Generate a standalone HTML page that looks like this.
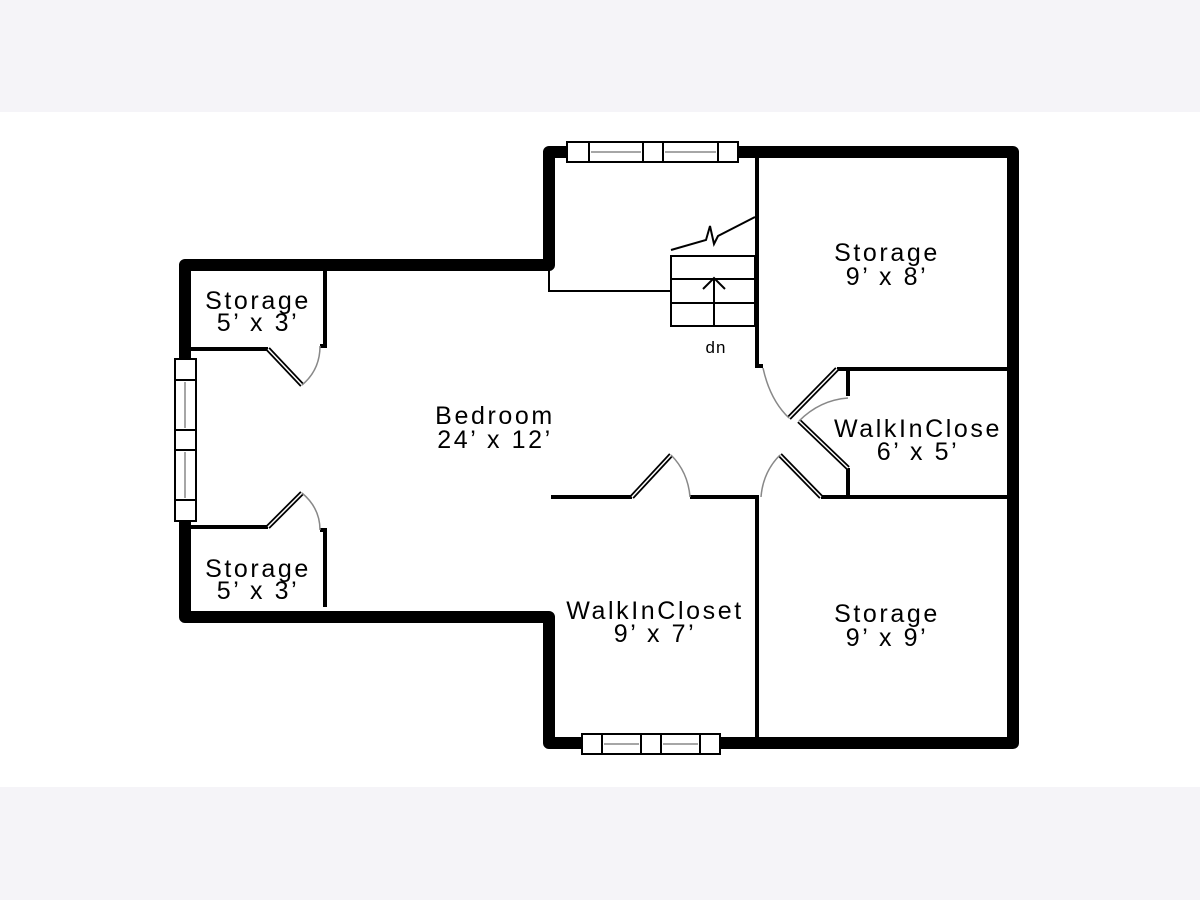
<!DOCTYPE html>
<html><head><meta charset="utf-8"><style>
html,body{margin:0;padding:0;background:#f5f4f8;}
svg{display:block;}
text{font-family:"Liberation Sans","DejaVu Sans",sans-serif;font-size:25px;fill:#000;text-anchor:middle;letter-spacing:2.6px;}
</style></head><body>
<svg width="1200" height="900" viewBox="0 0 1200 900" xmlns="http://www.w3.org/2000/svg">
<rect x="0" y="0" width="1200" height="900" fill="#f5f4f8"/>
<rect x="0" y="112" width="1200" height="675" fill="#fff"/>
<path d="M549,265 L185,265 L185,617 L549,617 L549,743 L1013,743 L1013,152 L549,152 Z" fill="none" stroke="#000" stroke-width="12" stroke-linejoin="round"/>
<g stroke="#000" stroke-width="2" fill="#fff">
<rect x="567" y="142" width="171" height="20"/>
<line x1="589" y1="142" x2="589" y2="162"/><line x1="643" y1="142" x2="643" y2="162"/><line x1="663" y1="142" x2="663" y2="162"/><line x1="718" y1="142" x2="718" y2="162"/>
<rect x="582" y="734" width="138" height="20"/>
<line x1="602" y1="734" x2="602" y2="754"/><line x1="641" y1="734" x2="641" y2="754"/><line x1="661" y1="734" x2="661" y2="754"/><line x1="700" y1="734" x2="700" y2="754"/>
<rect x="175" y="359" width="21" height="162"/>
<line x1="175" y1="380" x2="196" y2="380"/><line x1="175" y1="430" x2="196" y2="430"/><line x1="175" y1="450" x2="196" y2="450"/><line x1="175" y1="500" x2="196" y2="500"/>
</g>
<g stroke="#888" stroke-width="1.5">
<line x1="591" y1="152" x2="641" y2="152"/><line x1="665" y1="152" x2="716" y2="152"/>
<line x1="604" y1="744" x2="639" y2="744"/><line x1="663" y1="744" x2="698" y2="744"/>
<line x1="185" y1="382" x2="185" y2="428"/><line x1="185" y1="452" x2="185" y2="498"/>
</g>
<g stroke="#000" stroke-width="4" fill="none">
<polyline points="757,156 757,366 763,366"/>
<polyline points="837,369 1007,369"/>
<polyline points="848,369 848,396"/>
<polyline points="848,468 848,497"/>
<polyline points="821,497 1007,497"/>
<polyline points="690,497 759,497"/>
<polyline points="551,497 632,497"/>
<polyline points="757,497 757,739"/>
<polyline points="191,349 268,349"/>
<polyline points="325,271 325,346 320,346"/>
<polyline points="191,527 268,527"/>
<polyline points="325,607 325,530 320,530"/>
</g>
<g stroke="#000" stroke-width="2" fill="none">
<polyline points="549,268 549,291 671,291"/>
<rect x="671" y="256" width="84" height="70"/>
<line x1="671" y1="279" x2="755" y2="279"/><line x1="671" y1="303" x2="755" y2="303"/>
<line x1="714" y1="326" x2="714" y2="278"/>
<polyline points="703,289 714,278 725,289"/>
<polyline points="671,250 706,240 710,226 714,244 718,236 755,217"/>
</g>
<text x="716" y="353" style="font-size:17px;letter-spacing:1px">dn</text>
<g stroke="#000" stroke-width="5" fill="none">
<line x1="268" y1="349" x2="302" y2="385"/><line x1="268" y1="527" x2="302" y2="493"/>
<line x1="632" y1="497" x2="671" y2="455"/><line x1="821" y1="497" x2="780" y2="455"/>
<line x1="837" y1="369" x2="789" y2="418"/><line x1="848" y1="468" x2="799" y2="421"/>
</g>
<g stroke="#fff" stroke-width="1.5" fill="none">
<line x1="268" y1="349" x2="302" y2="385"/><line x1="268" y1="527" x2="302" y2="493"/>
<line x1="632" y1="497" x2="671" y2="455"/><line x1="821" y1="497" x2="780" y2="455"/>
<line x1="837" y1="369" x2="789" y2="418"/><line x1="848" y1="468" x2="799" y2="421"/>
</g>
<g stroke="#888" stroke-width="1.5" fill="none">
<path d="M302,385 Q320,370 320,346"/>
<path d="M302,493 Q320,508 320,530"/>
<path d="M671,455 Q688,472 690,497"/>
<path d="M780,455 Q763,472 761,497"/>
<path d="M763,368 Q770,400 789,418"/>
<path d="M799,421 Q820,400 848,398"/>
</g>
<text x="258" y="309">Storage</text><text x="258" y="331">5’ x 3’</text>
<text x="258" y="577">Storage</text><text x="258" y="599">5’ x 3’</text>
<text x="495" y="424">Bedroom</text><text x="495" y="448">24’ x 12’</text>
<text x="887" y="261">Storage</text><text x="887" y="285">9’ x 8’</text>
<text x="918" y="437">WalkInClose</text><text x="918" y="460">6’ x 5’</text>
<text x="655" y="619">WalkInCloset</text><text x="655" y="642">9’ x 7’</text>
<text x="887" y="622">Storage</text><text x="887" y="646">9’ x 9’</text>
</svg>
</body></html>
